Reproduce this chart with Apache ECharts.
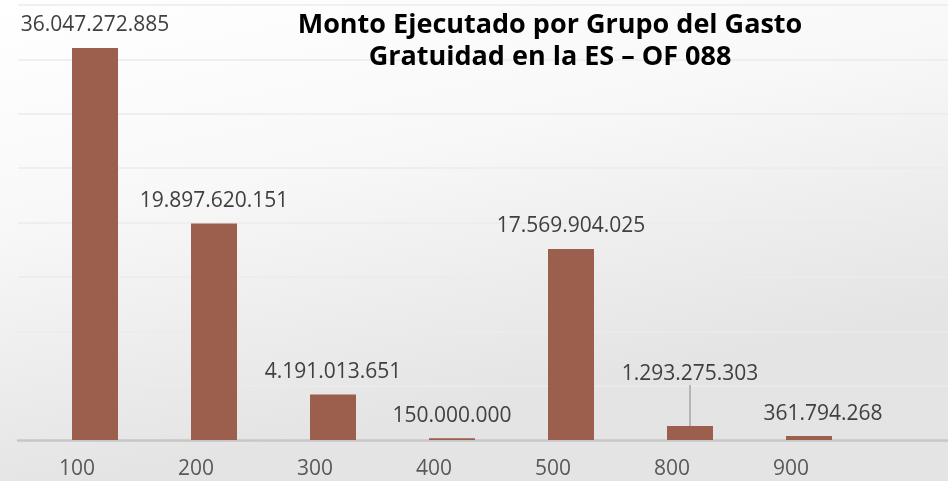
<!DOCTYPE html>
<html>
<head>
<meta charset="utf-8">
<script src="https://cdn.jsdelivr.net/npm/echarts@6/dist/echarts.min.js"></script>
<style>html,body{margin:0;padding:0;}#c{width:948px;height:481px;}</style>
</head>
<body>
<div id="c"></div>
<script>
// data
var categories=['100','200','300','400','500','800','900'];
var montos=[36047272885,19897620151,4191013651,150000000,17569904025,1293275303,361794268];
var yMax=40000000000, yStep=5000000000;
var titleLines=['Monto Ejecutado por Grupo del Gasto','Gratuidad en la ES \u2013 OF 088'];

function fmt(v){ return String(v).replace(/\B(?=(\d{3})+(?!\d))/g,'.'); }

var FONT='"Open Sans", sans-serif';
var barData=montos.map(function(v,i){
  return i===5 ? {value:v,labelLine:{show:true}} : v;   // only the 800 label has a leader line
});
var chart=echarts.init(document.getElementById('c'));
chart.setOption({
  animation:false,
  backgroundColor:{type:'linear',x:0,y:0,x2:0.1,y2:1,colorStops:[
    {offset:0,color:'#ffffff'},{offset:0.45,color:'#f8f8f8'},{offset:1,color:'#e4e4e4'}]},
  title:{text:titleLines.join('\n'),left:545,top:4,textAlign:'center',
    textStyle:{fontFamily:FONT,fontWeight:'bold',fontSize:27,lineHeight:32,color:'#000'}},
  grid:[
    {left:18,right:0,top:5,bottom:41,outerBoundsMode:'none'},          // background grid lines + baseline
    {left:35.5,width:833,top:5,bottom:41,outerBoundsMode:'none'}        // bars
  ],
  xAxis:[
    {gridIndex:0,type:'value',min:0,max:1,axisLine:{show:true,lineStyle:{color:'#c6c6c6',width:2.5}},
      axisTick:{show:false},axisLabel:{show:false},splitLine:{show:false}},
    {gridIndex:1,type:'category',data:categories,axisLine:{show:false},axisTick:{show:false},
      axisLabel:{fontFamily:FONT,fontSize:21,color:'#595959',margin:19,padding:[0,36,0,0]}}
  ],
  yAxis:[
    {gridIndex:0,type:'value',min:0,max:yMax,interval:yStep,axisLine:{show:false},axisTick:{show:false},
      axisLabel:{show:false},splitLine:{lineStyle:{color:'#ebebeb',width:1.5}}},
    {gridIndex:1,type:'value',min:0,max:yMax,interval:yStep,show:false,splitLine:{show:false}}
  ],
  series:[{
    type:'bar',xAxisIndex:1,yAxisIndex:1,barWidth:46,
    data:barData,
    itemStyle:{color:'#9c5f4e'},
    label:{show:true,position:'top',distance:12,fontFamily:FONT,fontSize:21,color:'#404040',
      formatter:function(p){return fmt(p.value);}},
    labelLine:{show:false,lineStyle:{color:'#a6a6a6',width:1.5}},
    labelLayout:function(p){
      if(p.dataIndex===5) return {dy:-29};
      if(p.dataIndex===6) return {dx:14};
      return {};
    }
  }]
});
</script>
</body>
</html>
